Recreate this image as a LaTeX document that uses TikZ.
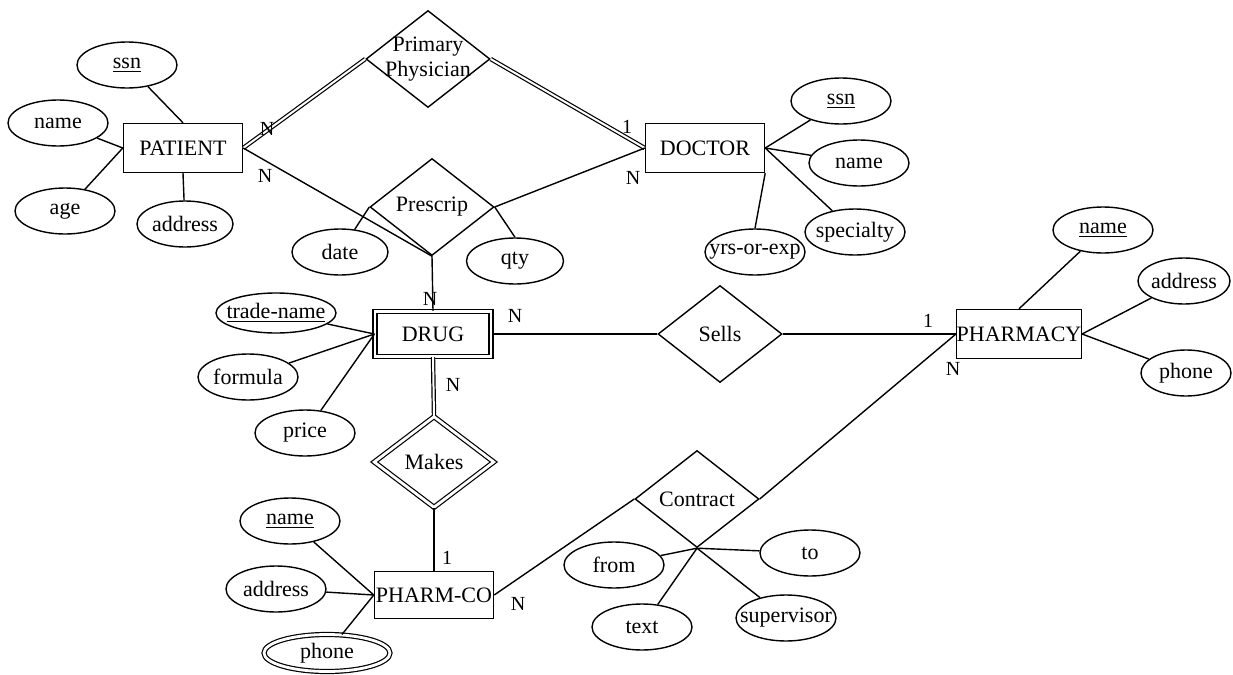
\documentclass[tikz,border=0pt]{standalone}
\usepackage{fontspec}
\setmainfont{Liberation Serif}
\usetikzlibrary{shapes.geometric}

\begin{document}
\begin{tikzpicture}[
  x=0.5pt,y=-0.5pt,
  font=\fontsize{11}{12.5}\selectfont,
  entity/.style={rectangle,draw,line width=0.7pt,minimum width=59.5pt,minimum height=24.5pt,inner sep=0pt},
  weakent/.style={entity,double,double distance=1.4pt,line width=0.6pt,minimum width=58pt,minimum height=22.5pt},
  attr/.style={ellipse,draw,line width=0.7pt,minimum width=50pt,minimum height=23pt,inner sep=0pt,
    label={center:#1}},
  rel/.style={diamond,draw,line width=0.7pt,minimum width=62pt,minimum height=48.5pt,inner sep=0pt,
    label={[align=center]center:#1}},
  weakrel/.style={rel=#1,double,double distance=1.4pt,line width=0.6pt,minimum width=60pt,minimum height=45.5pt},
  link/.style={line width=0.7pt},
  total/.style={double,double distance=1pt,line width=0.6pt},
  card/.style={font=\fontsize{10}{12}\selectfont,inner sep=0pt}
]
\useasboundingbox (0,0) rectangle (1233,675);

% ---------------- entities ----------------
\node[entity] (patient) at (183,148) {PATIENT};
\node[entity] (doctor) at (705,148) {DOCTOR};
\node[weakent] (drug) at (433,334) {DRUG};
\node[entity] (pharmacy) at (1019,334) {PHARMACY};
\node[entity,minimum height=23.5pt] (pharmco) at (434,595) {PHARM-CO};

% ---------------- relationships ----------------
\node[rel={Primary\\Physician}] (primary) at (428,59) {};
\node[rel=Prescrip] (prescrip) at (432,207) {};
\node[rel=Sells] (sells) at (720,334) {};
\node[weakrel=Makes] (makes) at (434,462) {};
\node[rel=Contract] (contract) at (697,499) {};

% ---------------- attributes ----------------
\node[attr={\underline{ssn}}] (patssn) at (127,65) {};
\node[attr=name] (patname) at (58,123) {};
\node[attr=age] (patage) at (65,211) {};
\node[attr=address,minimum width=48pt] (pataddr) at (185,224) {};

\node[attr={\underline{ssn}}] (docssn) at (841,101) {};
\node[attr=name] (docname) at (859,163) {};
\node[attr=specialty] (docspec) at (855,232) {};
\node[attr=yrs-or-exp] (docyrs) at (755,252) {};

\node[attr=date,minimum width=48pt] (date) at (340,252) {};
\node[attr=qty,minimum width=48.5pt] (qty) at (515,261) {};

\node[attr={\underline{trade-name}},minimum width=60pt,minimum height=20pt] (drugtrade) at (276,313) {};
\node[attr=formula] (drugformula) at (248,377) {};
\node[attr=price] (drugprice) at (305,433) {};

\node[attr={\underline{name}}] (phname) at (1103,230) {};
\node[attr=address,minimum width=46pt] (phaddr) at (1184,281) {};
\node[attr=phone,minimum width=45pt] (phphone) at (1186,373) {};

\node[attr={\underline{name}}] (pcname) at (290,521) {};
\node[attr=address] (pcaddr) at (276,589) {};
\node[attr=phone,double,double distance=1.4pt,line width=0.6pt,minimum width=63pt,minimum height=18.5pt] (pcphone) at (327,653) {};

\node[attr=from] (ctfrom) at (614,565) {};
\node[attr=to] (ctto) at (810,553) {};
\node[attr=text] (cttext) at (642,627) {};
\node[attr=supervisor] (ctsuper) at (786,618) {};

% ---------------- connectors ----------------
\draw[link] (patssn) -- (patient.north);
\draw[link] (patname) -- (patient.west);
\draw[link] (patage) -- (patient.west);
\draw[link] (pataddr) -- (patient.south);

\draw[total] (patient.east) -- (primary.west);
\draw[total] (primary.east) -- (doctor.west);
\draw[link] (patient.east) -- (prescrip.south);
\draw[link] (doctor.west) -- (prescrip.east);
\draw[link] (prescrip.west) -- (date);
\draw[link] (prescrip.east) -- (qty.north);
\draw[link] (prescrip.south) -- (drug.north);

\draw[link] (doctor.east) -- (docssn);
\draw[link] (doctor.east) -- (docname);
\draw[link] (doctor.east) -- (docspec);
\draw[link] (doctor.south east) -- (docyrs.north);

\draw[link] (drug.west) -- (drugtrade);
\draw[link] (drug.west) -- (drugformula);
\draw[link] (drug.west) -- (drugprice);
\draw[link] (drug.east) -- (sells.west);
\draw[link] (sells.east) -- (pharmacy.west);

\draw[link] (pharmacy.north) -- (phname);
\draw[link] (pharmacy.east) -- (phaddr);
\draw[link] (pharmacy.east) -- (phphone);

\draw[total] (drug.south) -- (makes.north);
\draw[link] (makes.south) -- (pharmco.north);

\draw[link] (pharmco.west) -- (pcname);
\draw[link] (pharmco.west) -- (pcaddr);
\draw[link] (pharmco.west) -- (pcphone);

\draw[link] (pharmco.east) -- (contract.west);
\draw[link] (contract.east) -- (pharmacy.west);
\draw[link] (contract.south) -- (ctfrom);
\draw[link] (contract.south) -- (ctto);
\draw[link] (contract.south) -- (cttext);
\draw[link] (contract.south) -- (ctsuper);

% ---------------- cardinalities ----------------
\node[card] (c1) at (267,129) {N};
\node[card] (c2) at (265,176) {N};
\node[card] (c3) at (627,127) {1};
\node[card] (c4) at (633,178) {N};
\node[card] (c5) at (430,299) {N};
\node[card] (c6) at (515,316) {N};
\node[card] (c7) at (928,321) {1};
\node[card] (c8) at (953,369) {N};
\node[card] (c9) at (453,385) {N};
\node[card] (c10) at (447,558) {1};
\node[card] (c11) at (518,604) {N};

\end{tikzpicture}
\end{document}
